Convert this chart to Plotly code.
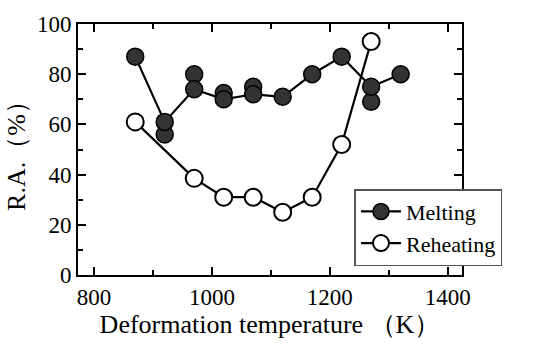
import plotly.graph_objects as go

temps = [870, 920, 970, 1020, 1070, 1120, 1170, 1220, 1270, 1320]
melting_line = [87, 61, 74, 70, 72, 71, 80, 87, 75, 80]
extra_temps = [920, 970, 1020, 1070, 1270]
melting_extra = [56, 80, 72.5, 75, 69]
reheat_temps = [870, 970, 1020, 1070, 1120, 1170, 1220, 1270]
reheating = [61, 38.5, 31, 31, 25, 31, 52, 93]

FONT = "Liberation Serif"

fig = go.Figure()
fig.add_trace(go.Scatter(
    x=extra_temps, y=melting_extra, mode="markers", showlegend=False,
    marker=dict(size=17, color="#333333", line=dict(color="black", width=1.5))))
fig.add_trace(go.Scatter(
    x=temps, y=melting_line, mode="lines+markers", name="Melting",
    line=dict(color="black", width=2.2),
    marker=dict(size=17, color="#333333", line=dict(color="black", width=1.5))))
fig.add_trace(go.Scatter(
    x=reheat_temps, y=reheating, mode="lines+markers", name="Reheating",
    line=dict(color="black", width=2.2),
    marker=dict(size=17, color="white", line=dict(color="black", width=2))))

axis_common = dict(
    showline=True, linecolor="black", linewidth=2, mirror="ticks",
    ticks="inside", ticklen=8, tickwidth=1.5, tickcolor="black",
    showgrid=False, zeroline=False,
    tickfont=dict(family=FONT, size=23, color="black"),
)

fig.update_xaxes(
    range=[773, 1424], tickvals=[800, 1000, 1200, 1400],
    minor=dict(tickvals=[900, 1100, 1300], ticks="inside", ticklen=5, tickcolor="black", tickwidth=1.5),
    title=dict(text="Deformation temperature （K）", font=dict(family=FONT, size=26, color="black"), standoff=6),
    **axis_common)
fig.update_yaxes(
    range=[0, 100], tickvals=[0, 20, 40, 60, 80, 100],
    minor=dict(tickvals=[10, 30, 50, 70, 90], ticks="inside", ticklen=5, tickcolor="black", tickwidth=1.5),
    title=dict(text="R.A.（%）", font=dict(family=FONT, size=26, color="black"), standoff=4),
    **axis_common)

fig.update_layout(
    width=537, height=346,
    margin=dict(l=78, r=75, t=16, b=70),
    plot_bgcolor="white", paper_bgcolor="white",
    legend=dict(x=0.72, y=0.342, xanchor="left", yanchor="top",
                bgcolor="white", bordercolor="#555", borderwidth=1.5,
                font=dict(family=FONT, size=22, color="black"),
                itemwidth=40, tracegroupgap=0),
)

fig.write_html("out.html")
